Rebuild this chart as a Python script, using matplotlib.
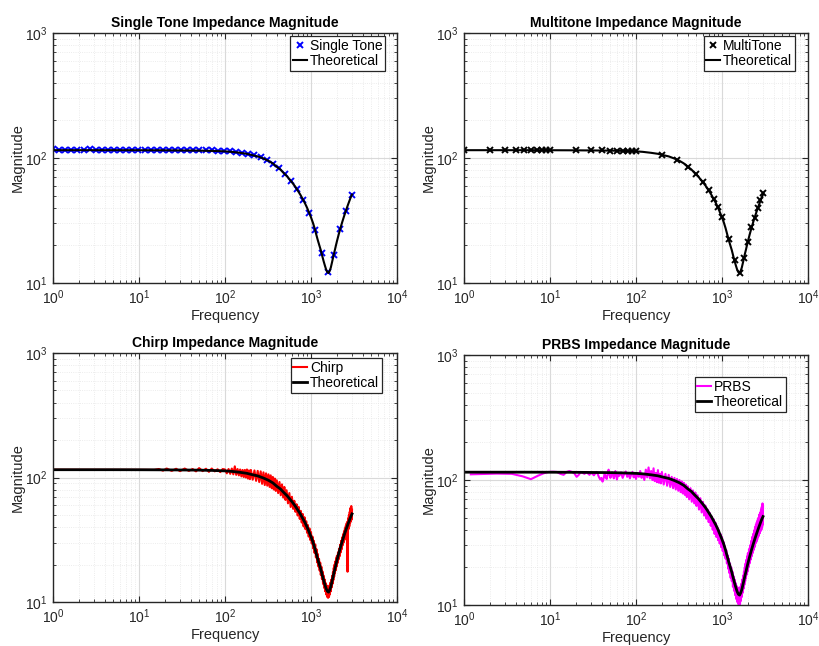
import matplotlib
matplotlib.use("Agg")
import matplotlib.pyplot as plt
from matplotlib.ticker import LogLocator, NullFormatter, LogFormatterMathtext

plt.rcParams["font.family"] = ["Liberation Sans", "DejaVu Sans"]
plt.rcParams["mathtext.default"] = "regular"

# theoretical impedance magnitude
theo_freq = [1, 2, 5, 10, 20, 50, 70, 100, 120, 150, 180, 200, 240, 280, 320, 360,
             400, 440, 480, 530, 600, 650, 700, 750, 800, 850, 900, 950, 1000, 1050,
             1100, 1150, 1200, 1250, 1300, 1350, 1400, 1450, 1500, 1550, 1600, 1650,
             1700, 1750, 1800, 1850, 1900, 1950, 2000, 2100, 2200, 2300, 2400, 2500,
             2600, 2700, 2800, 2900, 3000]
theo_mag = [115.5, 115.5, 115.5, 115.4, 115.2, 114.6, 114, 113, 112, 110, 108, 106,
            103, 99, 95, 90.5, 85, 81, 76, 71, 64, 59.5, 55, 51, 47, 43.5, 40, 36.5,
            33.5, 30.5, 27.5, 24.5, 22, 20, 18.3, 16.5, 15, 13.8, 12.8, 12.2, 12.0,
            12.5, 13.3, 14.5, 15.8, 17.2, 18.5, 20, 21.5, 24.5, 27.5, 30.5, 33.5,
            36.5, 39.5, 42.5, 45.5, 48.5, 51]

# single tone sweep (log spaced tones)
st_freq = [1.00, 1.177, 1.386, 1.632, 1.922, 2.263, 2.665, 3.138, 3.695, 4.351,
           5.124, 6.034, 7.105, 8.367, 9.85, 11.60, 13.66, 16.09, 18.94, 22.31,
           26.27, 30.93, 36.42, 42.89, 50.50, 59.47, 70.0, 82.4, 97.0, 114.3,
           134.5, 158.4, 186.6, 219.7, 258.7, 304.6, 358.6, 422.3, 497.3, 585.6,
           689.5, 812.0, 956, 1126, 1326, 1561, 1838, 2164, 2548, 3000]
st_mag = [117, 116, 115, 116, 115, 116, 117, 116, 115, 116,
          115, 116, 115, 116, 116, 115, 116, 115, 116, 115,
          116, 115, 116, 115, 115, 115, 115, 114, 114, 113,
          111, 110, 107, 105, 101, 97, 90, 83, 75, 65,
          56, 46, 36.5, 26.5, 17.5, 12.2, 16.8, 27, 38, 50.5]

# multitone components
mt_freq = [1, 2, 3, 4, 5, 6, 7, 8, 9, 10,
           20, 30, 40, 50, 60, 70, 80, 90, 100,
           200, 300, 400, 500, 600, 700, 800, 900, 1000,
           1200, 1400, 1600, 1800, 2000, 2200, 2400, 2600, 2800, 3000]
mt_mag = [115.5, 115.5, 115.5, 115.5, 115.5, 115.5, 115.5, 115.5, 115.5, 115.4,
          115.2, 115, 115, 114.6, 114.4, 114, 113.8, 113.4, 113,
          106, 97, 85, 74, 64, 55, 47, 40.5, 33.8,
          22.5, 15.2, 12.1, 15.8, 21.3, 27.8, 33, 39.8, 46.5, 52]

# chirp estimate
chirp_freq = [1, 1.5, 2, 3, 5, 8, 12, 15, 17, 19, 21, 24, 27, 30, 34, 38, 42, 46,
              50, 55, 60, 65, 70, 76, 82, 88, 94,
              100, 105, 110, 115, 120, 125, 130, 135, 140, 145, 150, 155, 160, 165,
              170, 175, 180, 185, 190, 195, 200, 210, 220, 230, 240, 250, 260, 270,
              280, 290, 300, 310, 320, 330, 340, 350, 360, 370, 380, 390, 400, 415,
              430, 445, 460, 475, 490, 505, 520, 540, 560, 580, 600, 620, 640, 660,
              680, 700, 720, 740, 760, 780, 800, 820, 840, 860, 880, 900, 920, 940,
              960, 980, 1000, 1020, 1040, 1060, 1080, 1100, 1120, 1140, 1160, 1180,
              1200, 1220, 1240, 1260, 1280, 1300, 1320, 1340, 1360, 1380, 1400, 1420,
              1440, 1460, 1480, 1500, 1520, 1540, 1560, 1580, 1600, 1620, 1640, 1660,
              1680, 1700, 1720, 1740, 1760, 1780, 1800, 1820, 1840, 1860, 1880, 1900,
              1920, 1940, 1960, 1980, 2000, 2030, 2060, 2090, 2120, 2150, 2180, 2210,
              2240, 2270, 2300, 2330, 2360, 2390, 2420, 2450, 2480, 2510, 2540, 2570,
              2600, 2620, 2640, 2660, 2670, 2700, 2730, 2760, 2790, 2820, 2850, 2880,
              2910, 2940, 2970, 3000]
chirp_mag = [115.5, 115.5, 115.5, 115.5, 115.4, 115.3, 115.3, 115.2, 117, 113.5, 118,
             113, 117.5, 112.5, 118, 113, 117, 112, 119, 112.5, 117.5, 111, 118,
             112, 116.5, 110.5, 117,
             116, 108, 117, 107, 118, 106, 123, 105, 117, 104, 116, 102, 115, 101,
             115, 100, 116, 98, 114, 97, 115, 96, 114, 94, 113, 92, 112, 89,
             110, 87, 108, 86, 106, 84, 104, 82, 101, 80, 98, 78, 95, 75,
             92, 72, 88, 69, 84, 66, 79, 62, 75, 58, 70, 56, 65, 53,
             61, 49.5, 58, 46.5, 54, 43.5, 51, 40.5, 48, 38.5, 44.5, 36, 41.5, 33.5,
             39, 31.5, 36.5, 29.5, 33.5, 27, 31, 24.8, 29, 22.8, 26.5, 20.8,
             24.3, 19.3, 22.2, 17.9, 20.7, 16.5, 19.2, 15.3, 17.6, 14, 16.3, 13,
             15.2, 12.2, 14.2, 11.5, 13.6, 11, 13.2, 10.8, 13.2, 11, 13.6, 11.5,
             14.3, 12.2, 15.1, 13.1, 16.2, 14, 17.4, 15, 18.8, 16, 20, 17,
             21.2, 18, 22.5, 19.2, 23.5, 20.5, 25, 22, 26.8, 23.3, 28.8, 25,
             31, 26.5, 33, 28.5, 35, 30, 37, 31.5, 39, 33, 41, 34.5,
             43, 35.5, 44, 17.5, 38.5, 47, 38.5, 50, 40.5, 53, 43, 57,
             44.5, 59, 46, 55]

# PRBS estimate
prbs_freq = [1.2, 2.4, 3.6, 4.8, 6.0, 7.2, 8.4, 9.6, 10.8, 12.0, 13.2, 14.4, 15.6,
             16.8, 18.0, 19.2, 20.4, 21.6, 22.8, 24.0, 25.2, 26.4, 27.6, 28.8, 30.0,
             31.2, 32.4, 33.6, 34.8, 36.0, 37.2, 38.4, 39.6, 40.8, 42.0, 43.2, 44.4,
             45.6, 46.8, 48.0, 49.2, 50.4, 51.6, 52.8, 54.0, 55.2, 56.4, 57.6, 58.8,
             60.0, 61.2, 62.4, 64, 67, 70, 73, 76, 79, 82, 85, 88, 91, 94, 97,
             100, 104, 108, 112, 116, 120, 125, 130, 135, 140, 145, 150, 155, 160,
             165, 170, 175, 180, 185, 190, 195, 200, 210, 220, 230, 240, 250, 260,
             270, 280, 290, 300, 310, 320, 330, 340, 350, 360, 370, 380, 390, 400,
             415, 430, 445, 460, 475, 490, 505, 520, 540, 560, 580, 600, 620, 640,
             660, 680, 700, 720, 740, 760, 780, 800, 820, 840, 860, 880, 900, 920,
             940, 960, 980, 1000, 1020, 1040, 1060, 1080, 1100, 1120, 1140, 1160,
             1180, 1200, 1220, 1240, 1260, 1280, 1300, 1320, 1340, 1360, 1380, 1400,
             1420, 1440, 1460, 1480, 1500, 1520, 1540, 1560, 1580, 1600, 1620, 1640,
             1660, 1680, 1700, 1720, 1740, 1760, 1780, 1800, 1820, 1840, 1860, 1880,
             1900, 1920, 1940, 1960, 1980, 2000, 2030, 2060, 2090, 2120, 2150, 2180,
             2210, 2240, 2270, 2300, 2330, 2360, 2390, 2420, 2450, 2480, 2510, 2540,
             2570, 2600, 2630, 2660, 2690, 2720, 2750, 2780, 2810, 2840, 2870, 2900,
             2930, 2960, 2980, 3000]
prbs_mag = [111, 112.5, 112, 107, 101.5, 108, 113, 116, 116.5, 116, 112, 110, 116,
            118, 116, 113, 106, 110, 116, 114, 112, 116, 113, 110, 115,
            112, 109, 113, 116, 111, 105, 101, 104, 97, 103, 112, 106,
            102, 112, 121, 110, 104, 108, 115, 110, 103, 112, 118, 108,
            101, 107, 114, 108, 115, 104, 112, 117, 106, 113, 103, 111, 116, 105, 112,
            102, 114, 106, 118, 104, 112, 100, 121, 105, 126, 103, 118, 100, 124,
            98, 114, 96, 120, 95, 112, 94, 116, 92, 112, 90, 110, 88, 106,
            86, 104, 84, 102, 82, 100, 80, 97.5, 78, 95, 76, 92, 73, 89,
            70, 86, 67, 82.5, 65, 79.5, 62, 75.5, 58, 71.5, 55, 67, 52, 62.5,
            49, 58, 46, 54.5, 43, 51, 40, 48.5, 37, 45.5, 35, 42, 33, 39.5,
            31, 37, 29, 35, 27, 32, 25, 29.5, 23.5, 27.5, 21.5, 25,
            19.5, 23.5, 18, 21.5, 16.5, 20, 15.5, 18.5, 14, 17, 13, 16,
            12, 15, 11.2, 14.2, 10.6, 13.8, 10.2, 13.5, 10.0, 13.6, 10.2, 14.0,
            10.8, 14.8, 11.6, 16, 12.5, 17.2, 13.5, 18.5, 14.5, 20, 15.5, 21.5,
            16.5, 23, 17.5, 24.5, 18.5, 26, 20, 28, 21.5, 30, 23, 32.5,
            24.5, 35, 26, 37, 27.5, 39.5, 29, 42, 31, 44, 32, 46,
            33.5, 48, 35, 50, 36, 53, 37.5, 55, 39, 58, 40, 61,
            42, 65, 44, 62]

TXT = "#262626"


def style_axes(ax, title):
    ax.set_xscale("log")
    ax.set_yscale("log")
    ax.set_xlim(1, 1e4)
    ax.set_ylim(10, 1000)
    ax.xaxis.set_major_locator(LogLocator(base=10, numticks=10))
    ax.yaxis.set_major_locator(LogLocator(base=10, numticks=10))
    ax.xaxis.set_minor_locator(LogLocator(base=10, subs=range(2, 10), numticks=20))
    ax.yaxis.set_minor_locator(LogLocator(base=10, subs=range(2, 10), numticks=20))
    ax.xaxis.set_major_formatter(LogFormatterMathtext())
    ax.yaxis.set_major_formatter(LogFormatterMathtext())
    ax.xaxis.set_minor_formatter(NullFormatter())
    ax.yaxis.set_minor_formatter(NullFormatter())
    ax.grid(True, which="major", color="#d9d9d9", lw=0.8)
    ax.grid(True, which="minor", color="#e6e6e6", lw=0.6, ls=":")
    ax.set_axisbelow(True)
    ax.tick_params(which="both", direction="in", top=True, right=True,
                   colors=TXT, labelsize=10, pad=4)
    ax.tick_params(which="major", length=4, width=0.8)
    ax.tick_params(which="minor", length=2, width=0.6)
    for sp in ax.spines.values():
        sp.set_color(TXT)
        sp.set_linewidth(1.0)
    ax.set_title(title, fontsize=10, fontweight="bold", color="black", pad=4)
    ax.set_xlabel("Frequency", fontsize=10.5, color=TXT, labelpad=1)
    ax.set_ylabel("Magnitude", fontsize=10.5, color=TXT, labelpad=0)


def add_legend(ax, anchor):
    leg = ax.legend(loc="upper right", bbox_to_anchor=anchor, borderaxespad=0,
                    fontsize=10, frameon=True, fancybox=False, framealpha=1,
                    edgecolor=TXT, handlelength=1.0, handletextpad=0.2,
                    borderpad=0.2, labelspacing=0.1)
    leg.get_frame().set_linewidth(0.9)
    return leg


fig = plt.figure(figsize=(8.19, 6.46), dpi=100)
W, H = 819, 646
ax_st = fig.add_axes([53 / W, 1 - 283 / H, 344 / W, 250 / H])
ax_mt = fig.add_axes([464 / W, 1 - 283 / H, 344 / W, 250 / H])
ax_ch = fig.add_axes([53 / W, 1 - 602 / H, 344 / W, 249 / H])
ax_pr = fig.add_axes([464 / W, 1 - 605 / H, 344 / W, 250 / H])

ax_st.plot(st_freq, st_mag, "x", color="blue", ms=4.5, mew=1.4, label="Single Tone")
ax_st.plot(theo_freq, theo_mag, color="black", lw=1.5, label="Theoretical")
style_axes(ax_st, "Single Tone Impedance Magnitude")
add_legend(ax_st, (0.966, 0.988))

ax_mt.plot(mt_freq, mt_mag, "x", color="black", ms=4.5, mew=1.4, label="MultiTone")
ax_mt.plot(theo_freq, theo_mag, color="black", lw=1.5, label="Theoretical")
style_axes(ax_mt, "Multitone Impedance Magnitude")
add_legend(ax_mt, (0.962, 0.988))

ax_ch.plot(chirp_freq, chirp_mag, color="red", lw=1.5, label="Chirp")
ax_ch.plot(theo_freq, theo_mag, color="black", lw=2, label="Theoretical")
style_axes(ax_ch, "Chirp Impedance Magnitude")
add_legend(ax_ch, (0.956, 0.98))

ax_pr.plot(prbs_freq, prbs_mag, color="magenta", lw=1.5, label="PRBS")
ax_pr.plot(theo_freq, theo_mag, color="black", lw=2, label="Theoretical")
style_axes(ax_pr, "PRBS Impedance Magnitude")
add_legend(ax_pr, (0.936, 0.912))

fig.savefig("out.png", dpi=100)
